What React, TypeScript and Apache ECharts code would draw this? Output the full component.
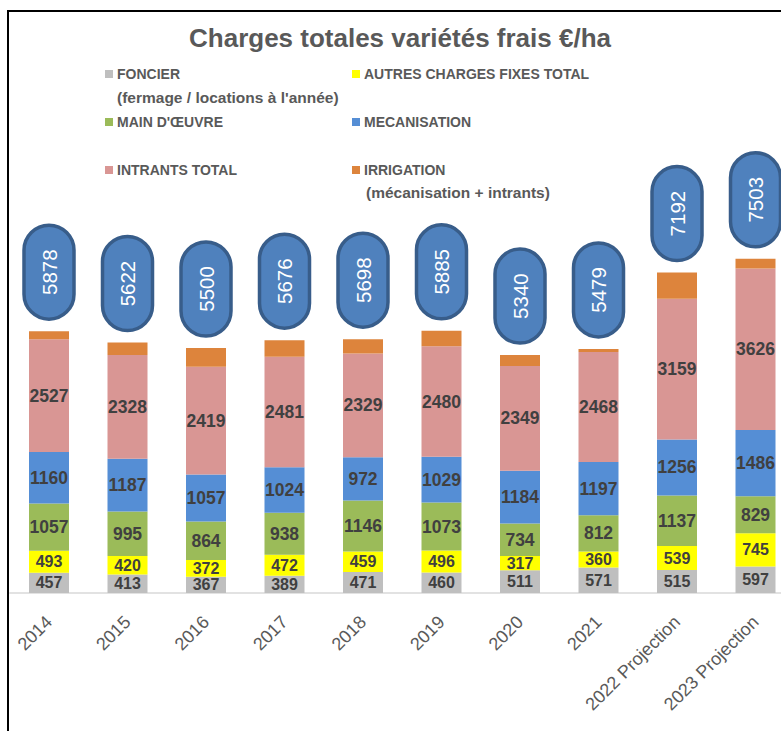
import React, { useEffect, useRef } from "react";
import * as echarts from "echarts";

const categories = ["2014", "2015", "2016", "2017", "2018", "2019", "2020", "2021", "2022 Projection", "2023 Projection"];
const foncier = [457, 413, 367, 389, 471, 460, 511, 571, 515, 597];
const autresCharges = [493, 420, 372, 472, 459, 496, 317, 360, 539, 745];
const mainOeuvre = [1057, 995, 864, 938, 1146, 1073, 734, 812, 1137, 829];
const mecanisation = [1160, 1187, 1057, 1024, 972, 1029, 1184, 1197, 1256, 1486];
const intrants = [2527, 2328, 2419, 2481, 2329, 2480, 2349, 2468, 3159, 3626];
const irrigation = [184, 279, 421, 372, 321, 347, 245, 71, 586, 220];
const totals = [5878, 5622, 5500, 5676, 5698, 5885, 5340, 5479, 7192, 7503];

const FONT = '"Liberation Sans", Arial, sans-serif';
const TXT = "#595959";

export default function App() {
  const ref = useRef<HTMLDivElement>(null);
  useEffect(() => {
    if (!ref.current) return;
    const chart = echarts.init(ref.current, null, { renderer: "svg" });
    const barLabel = (size: number) => ({
      show: true,
      position: "inside",
      color: "#404040",
      fontWeight: "bold",
      fontSize: size,
      lineHeight: Math.min(size, 16),
      fontFamily: FONT,
    });
    const mk = (name: string, data: number[], color: string, size = 17.5, label = true) => ({
      name,
      type: "bar",
      stack: "total",
      barWidth: 40,
      data,
      itemStyle: { color },
      label: label ? barLabel(size) : { show: false },
      emphasis: { disabled: true },
    });
    const legendItem = (name: string, left: number, top: number) => ({
      data: [name],
      left,
      top,
      icon: "rect",
      itemWidth: 8,
      itemHeight: 8,
      padding: 0,
      selectedMode: false,
      textStyle: { color: TXT, fontSize: 14, fontWeight: "bold", fontFamily: FONT, padding: [0, 0, 0, -1] },
    });
    chart.setOption({
      animation: false,
      backgroundColor: "#ffffff",
      title: {
        text: "Charges totales variétés frais €/ha",
        left: "center",
        top: 25,
        padding: 0,
        textStyle: { color: TXT, fontSize: 26, fontWeight: "bold", fontFamily: FONT },
      },
      legend: [
        legendItem("FONCIER", 105, 67),
        legendItem("AUTRES CHARGES FIXES TOTAL", 352, 67),
        legendItem("MAIN D'ŒUVRE", 105, 115),
        legendItem("MECANISATION", 352, 115),
        legendItem("INTRANTS TOTAL", 105, 163),
        legendItem("IRRIGATION", 352, 163),
      ],
      graphic: [
        {
          type: "rect",
          shape: { x: 8, y: 11, width: 900, height: 900 },
          style: { fill: "none", stroke: "#000000", lineWidth: 2 },
          silent: true,
        },
        {
          type: "text",
          left: 117,
          top: 89,
          style: { text: "(fermage / locations à l'année)", fill: TXT, fontSize: 15.5, fontWeight: "bold", fontFamily: FONT },
        },
        {
          type: "text",
          left: 366,
          top: 184,
          style: { text: "(mécanisation + intrants)", fill: TXT, fontSize: 15.5, fontWeight: "bold", fontFamily: FONT },
        },
      ],
      grid: { left: 9.75, width: 785, top: 236.6, bottom: 138, containLabel: false },
      xAxis: {
        type: "category",
        data: categories,
        axisLine: { lineStyle: { color: "#D9D9D9", width: 1.5 } },
        axisTick: { show: false },
        axisLabel: { rotate: 45, interval: 0, margin: 26, color: TXT, fontSize: 18, fontFamily: FONT },
      },
      yAxis: { type: "value", min: 0, max: 8000, show: false, splitLine: { show: false } },
      series: [
        mk("FONCIER", foncier, "#BFBFBF", 16),
        mk("AUTRES CHARGES FIXES TOTAL", autresCharges, "#FFFF00", 16),
        mk("MAIN D'ŒUVRE", mainOeuvre, "#9BBB59"),
        mk("MECANISATION", mecanisation, "#558ED5"),
        mk("INTRANTS TOTAL", intrants, "#D99694"),
        mk("IRRIGATION", irrigation, "#DD843C", 16, false),
        {
          name: "TOTAL",
          type: "custom",
          data: totals.map((t, i) => [i, t]),
          encode: { x: 0, y: 1 },
          clip: false,
          z: 10,
          renderItem: (_params: any, api: any) => {
            const idx = api.value(0);
            const total = api.value(1);
            const p = api.coord([idx, total]);
            const w = 50;
            const h = 94;
            const bottom = p[1] - 12;
            return {
              type: "group",
              children: [
                {
                  type: "rect",
                  shape: { x: p[0] - w / 2, y: bottom - h, width: w, height: h, r: w / 2 },
                  style: { fill: "#4F81BD", stroke: "#385D8A", lineWidth: 3.5 },
                },
                {
                  type: "text",
                  x: p[0],
                  y: bottom - h / 2,
                  rotation: Math.PI / 2,
                  style: {
                    text: String(total),
                    fill: "#FFFFFF",
                    fontSize: 20.5,
                    fontFamily: FONT,
                    align: "center",
                    verticalAlign: "middle",
                  },
                },
              ],
            };
          },
        },
      ],
    });
    return () => chart.dispose();
  }, []);
  return (
    <div style={{ position: "fixed", left: 0, top: 0, width: 781, height: 731, overflow: "hidden", background: "#fff" }}>
      <div ref={ref} style={{ width: 800, height: 731 }} />
    </div>
  );
}
